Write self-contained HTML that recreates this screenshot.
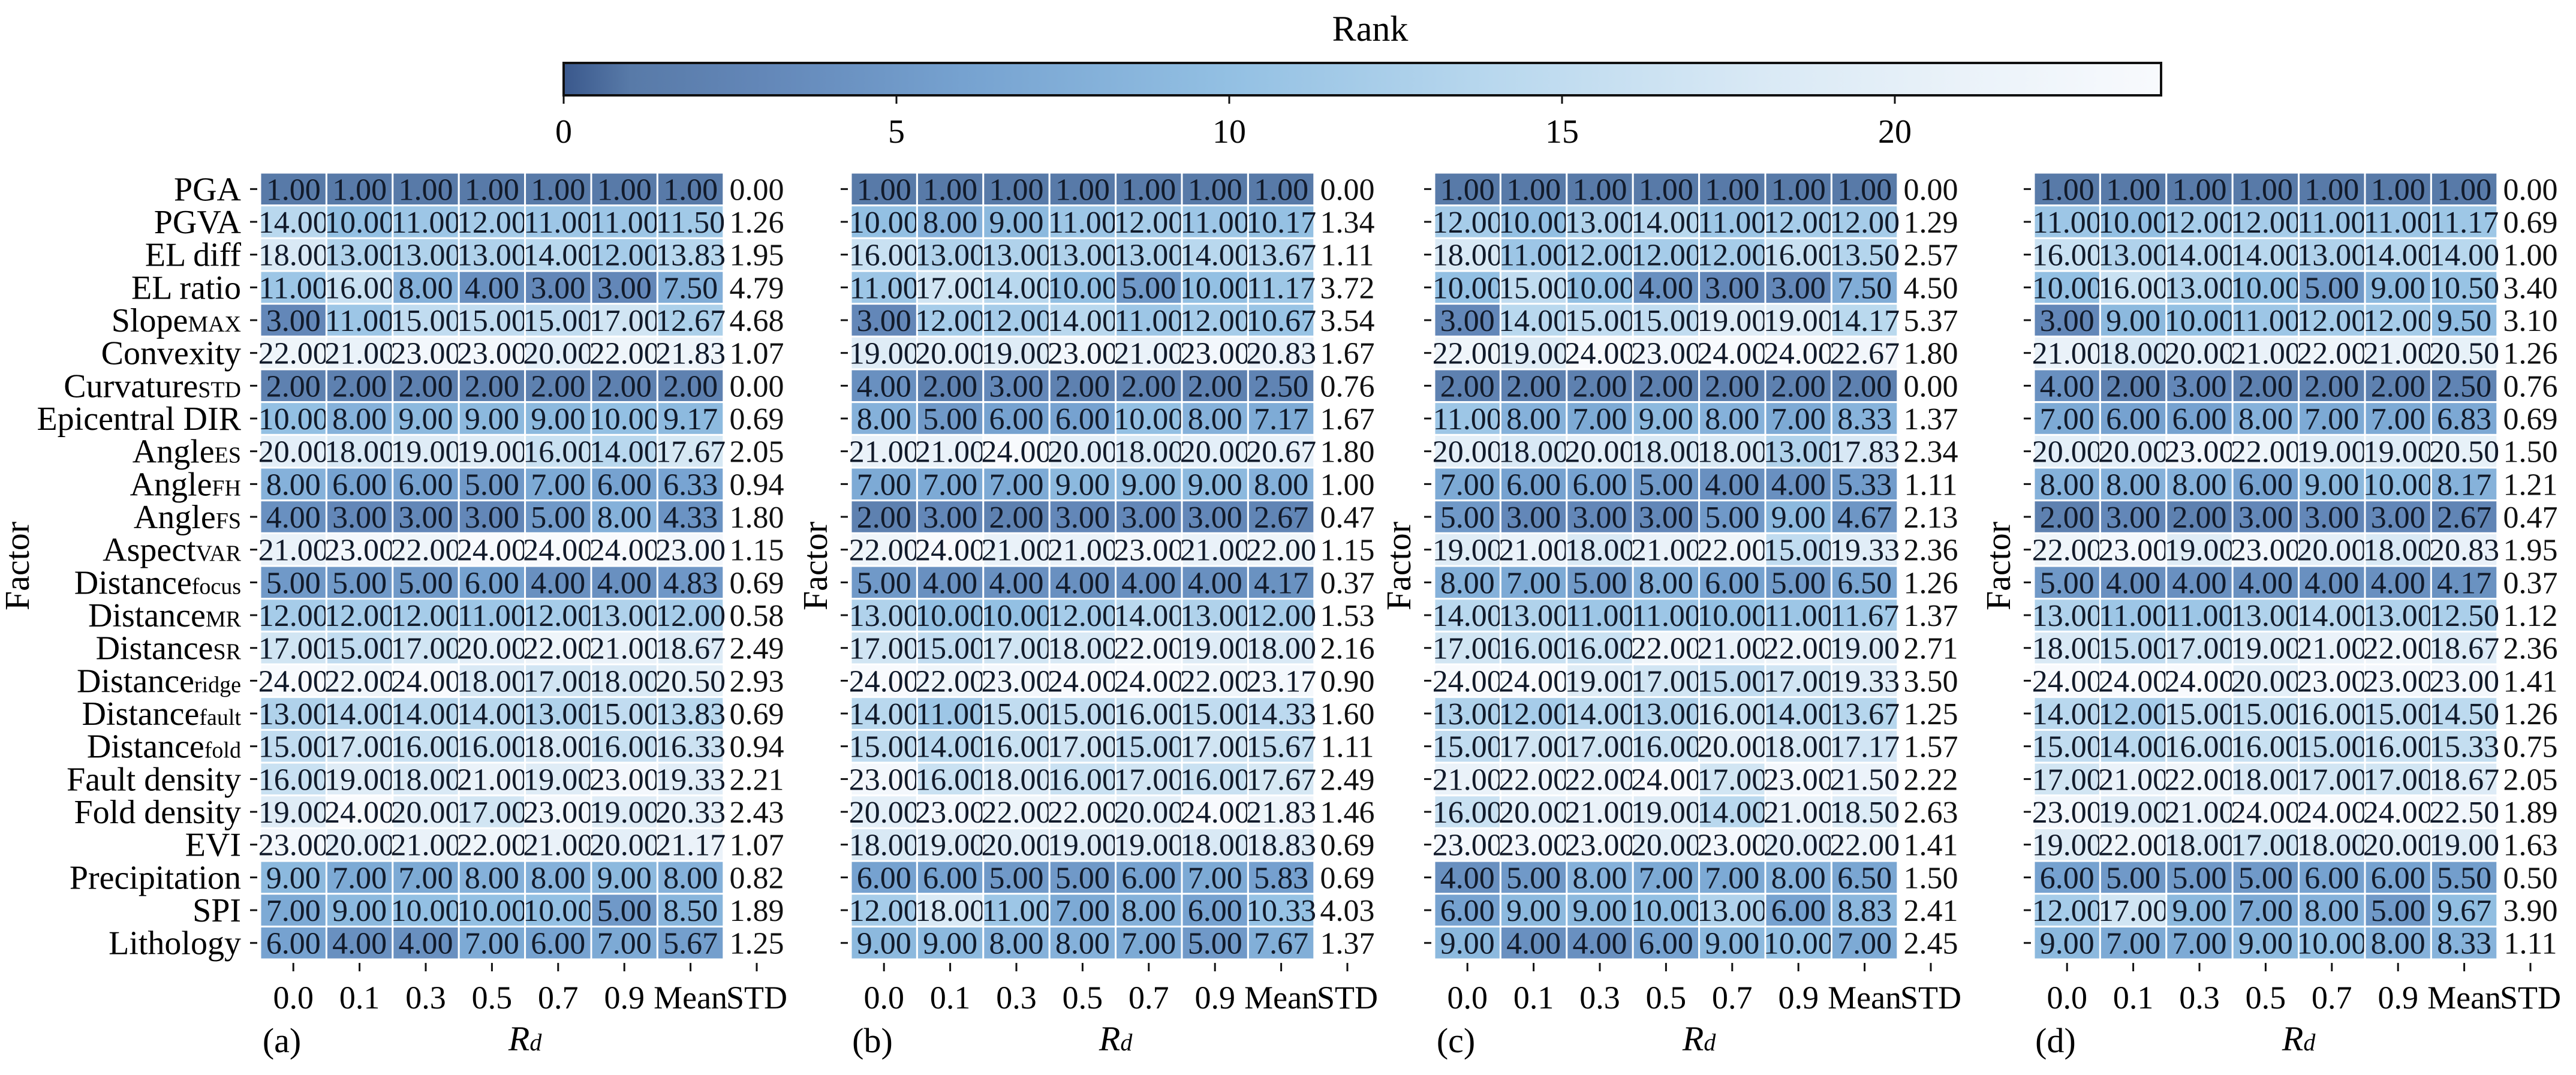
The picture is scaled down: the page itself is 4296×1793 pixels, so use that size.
<!DOCTYPE html>
<html><head><meta charset="utf-8"><style>
html,body{margin:0;padding:0;background:#fff;}
svg{display:block;font-family:"Liberation Serif",serif;}
</style></head><body>
<svg id="fig" xmlns="http://www.w3.org/2000/svg" width="4296" height="1793" viewBox="0 0 4296 1793">
<defs><linearGradient id="cbgrad" x1="0" x2="1" y1="0" y2="0"></linearGradient></defs>
<rect width="4296" height="1793" fill="#fff"/>
</svg>
<script>
// ---- data ----
const factors = ["PGA","PGVA","EL diff","EL ratio","Slope|MAX","Convexity","Curvature|STD","Epicentral DIR","Angle|ES","Angle|FH","Angle|FS","Aspect|VAR","Distance|focus","Distance|MR","Distance|SR","Distance|ridge","Distance|fault","Distance|fold","Fault density","Fold density","EVI","Precipitation","SPI","Lithology"];
const columns = ["0.0","0.1","0.3","0.5","0.7","0.9","Mean"];
const panelLabels = ["(a)","(b)","(c)","(d)"];
const colorbarTicks = [0,5,10,15,20];
const rankA = [[1,1,1,1,1,1,1],[14,10,11,12,11,11,11.5],[18,13,13,13,14,12,13.83],[11,16,8,4,3,3,7.5],[3,11,15,15,15,17,12.67],[22,21,23,23,20,22,21.83],[2,2,2,2,2,2,2],[10,8,9,9,9,10,9.17],[20,18,19,19,16,14,17.67],[8,6,6,5,7,6,6.33],[4,3,3,3,5,8,4.33],[21,23,22,24,24,24,23],[5,5,5,6,4,4,4.83],[12,12,12,11,12,13,12],[17,15,17,20,22,21,18.67],[24,22,24,18,17,18,20.5],[13,14,14,14,13,15,13.83],[15,17,16,16,18,16,16.33],[16,19,18,21,19,23,19.33],[19,24,20,17,23,19,20.33],[23,20,21,22,21,20,21.17],[9,7,7,8,8,9,8],[7,9,10,10,10,5,8.5],[6,4,4,7,6,7,5.67]];
const stdA = [0,1.26,1.95,4.79,4.68,1.07,0,0.69,2.05,0.94,1.80,1.15,0.69,0.58,2.49,2.93,0.69,0.94,2.21,2.43,1.07,0.82,1.89,1.25];
const rankB = [[1,1,1,1,1,1,1],[10,8,9,11,12,11,10.17],[16,13,13,13,13,14,13.67],[11,17,14,10,5,10,11.17],[3,12,12,14,11,12,10.67],[19,20,19,23,21,23,20.83],[4,2,3,2,2,2,2.5],[8,5,6,6,10,8,7.17],[21,21,24,20,18,20,20.67],[7,7,7,9,9,9,8],[2,3,2,3,3,3,2.67],[22,24,21,21,23,21,22],[5,4,4,4,4,4,4.17],[13,10,10,12,14,13,12],[17,15,17,18,22,19,18],[24,22,23,24,24,22,23.17],[14,11,15,15,16,15,14.33],[15,14,16,17,15,17,15.67],[23,16,18,16,17,16,17.67],[20,23,22,22,20,24,21.83],[18,19,20,19,19,18,18.83],[6,6,5,5,6,7,5.83],[12,18,11,7,8,6,10.33],[9,9,8,8,7,5,7.67]];
const stdB = [0,1.34,1.11,3.72,3.54,1.67,0.76,1.67,1.80,1.00,0.47,1.15,0.37,1.53,2.16,0.90,1.60,1.11,2.49,1.46,0.69,0.69,4.03,1.37];
const rankC = [[1,1,1,1,1,1,1],[12,10,13,14,11,12,12],[18,11,12,12,12,16,13.5],[10,15,10,4,3,3,7.5],[3,14,15,15,19,19,14.17],[22,19,24,23,24,24,22.67],[2,2,2,2,2,2,2],[11,8,7,9,8,7,8.33],[20,18,20,18,18,13,17.83],[7,6,6,5,4,4,5.33],[5,3,3,3,5,9,4.67],[19,21,18,21,22,15,19.33],[8,7,5,8,6,5,6.5],[14,13,11,11,10,11,11.67],[17,16,16,22,21,22,19],[24,24,19,17,15,17,19.33],[13,12,14,13,16,14,13.67],[15,17,17,16,20,18,17.17],[21,22,22,24,17,23,21.5],[16,20,21,19,14,21,18.5],[23,23,23,20,23,20,22],[4,5,8,7,7,8,6.5],[6,9,9,10,13,6,8.83],[9,4,4,6,9,10,7]];
const stdC = [0,1.29,2.57,4.50,5.37,1.80,0,1.37,2.34,1.11,2.13,2.36,1.26,1.37,2.71,3.50,1.25,1.57,2.22,2.63,1.41,1.50,2.41,2.45];
const rankD = [[1,1,1,1,1,1,1],[11,10,12,12,11,11,11.17],[16,13,14,14,13,14,14],[10,16,13,10,5,9,10.5],[3,9,10,11,12,12,9.5],[21,18,20,21,22,21,20.5],[4,2,3,2,2,2,2.5],[7,6,6,8,7,7,6.83],[20,20,23,22,19,19,20.5],[8,8,8,6,9,10,8.17],[2,3,2,3,3,3,2.67],[22,23,19,23,20,18,20.83],[5,4,4,4,4,4,4.17],[13,11,11,13,14,13,12.5],[18,15,17,19,21,22,18.67],[24,24,24,20,23,23,23],[14,12,15,15,16,15,14.5],[15,14,16,16,15,16,15.33],[17,21,22,18,17,17,18.67],[23,19,21,24,24,24,22.5],[19,22,18,17,18,20,19],[6,5,5,5,6,6,5.5],[12,17,9,7,8,5,9.67],[9,7,7,9,10,8,8.33]];
const stdD = [0,0.69,1.00,3.40,3.10,1.26,0.76,0.69,1.50,1.21,0.47,1.95,0.37,1.12,2.36,1.41,1.26,0.75,2.05,1.89,1.63,0.50,3.90,1.11];

// ---- layout / scales ----
const NS = "http://www.w3.org/2000/svg";
const svg = document.getElementById('fig');
const panelLeft = [434, 1419, 2392, 3392];
const cellW = 110.4, top0 = 288, rowH = 54.67;
const vmin = 0, vmax = 24;
const cmapStops = [[0,[58,88,140]],[1,[88,122,168]],[3,[99,135,184]],[6,[118,162,208]],[10,[147,192,227]],[14,[185,216,238]],[18,[217,233,245]],[21,[234,242,249]],[24,[248,250,253]]];
function cmap(v){
  v = Math.max(vmin, Math.min(vmax, v));
  for (let i=0;i<cmapStops.length-1;i++){
    const [a,ca]=cmapStops[i],[b,cb]=cmapStops[i+1];
    if (v<=b){const t=(v-a)/(b-a);const c=ca.map((x,k)=>Math.round(x+(cb[k]-x)*t));return `rgb(${c[0]},${c[1]},${c[2]})`;}
  }
  return 'rgb(248,250,253)';
}
const xCol = (p,j) => panelLeft[p] + j*cellW;
const yRow = i => top0 + i*rowH;
function mk(tag, attrs, parent){const e=document.createElementNS(NS,tag);for(const k in attrs)e.setAttribute(k,attrs[k]);(parent||svg).appendChild(e);return e;}

// ---- colorbar ----
const cbX0 = 940, cbX1 = 3604, cbY = 105, cbH = 54;
const cbScale = v => cbX0 + (v - vmin)/(vmax - vmin)*(cbX1 - cbX0);
const grad = document.getElementById('cbgrad');
cmapStops.forEach(s=>{mk('stop',{offset:(s[0]/vmax*100)+'%','stop-color':cmap(s[0])},grad);});
const cbg = mk('g',{});


const cbr = mk('rect',{x:cbX0,y:cbY,width:cbX1-cbX0,height:cbH,fill:'url(#cbgrad)',stroke:'#111','stroke-width':4},cbg);


const rk = mk('text',{x:2285,y:68,'font-size':60,'text-anchor':'middle'},cbg);
rk.textContent='Rank';


colorbarTicks.forEach(t=>{
  const x=cbScale(t);
  mk('line',{x1:x,x2:x,y1:cbY+cbH,y2:cbY+cbH+14,stroke:'#111','stroke-width':3},cbg);
  const tt=mk('text',{x:x,y:238,'font-size':56,'text-anchor':'middle'},cbg);
  tt.textContent=String(t);
  
  
});

// ---- panels ----
const panelsRank=[rankA,rankB,rankC,rankD];
const panelsStd=[stdA,stdB,stdC,stdD];
panelsRank.forEach((rank,p)=>{
  const g=mk('g',{});
  
  
  rank.forEach((row,i)=>{
    row.forEach((v,j)=>{
      const r=mk('rect',{x:xCol(p,j),y:yRow(i),width:cellW,height:rowH,fill:cmap(v),stroke:'#fff','stroke-width':3},g);
      
      
      const t=mk('text',{x:xCol(p,j)+cellW/2,y:yRow(i)+rowH/2+18,'font-size':52,'text-anchor':'middle',fill:'#111a2a'},g);
      t.textContent=v.toFixed(2);
      
      
    });
    const s=mk('text',{x:xCol(p,7)+cellW/2,y:yRow(i)+rowH/2+18,'font-size':52,'text-anchor':'middle',fill:'#111'},g);
    s.textContent=panelsStd[p][i].toFixed(2);
    
    
    mk('line',{x1:panelLeft[p]-17,x2:panelLeft[p]-5,y1:yRow(i)+rowH/2,y2:yRow(i)+rowH/2,stroke:'#111','stroke-width':3},g);
  });
  const bottom=yRow(rank.length);
  [...columns,"STD"].forEach((c,j)=>{
    const x=xCol(p,j)+cellW/2;
    mk('line',{x1:x,x2:x,y1:bottom+6,y2:bottom+20,stroke:'#111','stroke-width':3},g);
    const t=mk('text',{x:x,y:bottom+82,'font-size':54,'text-anchor':'middle'},g);
    t.textContent=c;
    
    
  });
  const pl=mk('text',{x:panelLeft[p]+36,y:1755,'font-size':58,'text-anchor':'middle'},g);
  pl.textContent=panelLabels[p];
  
  
  const xl=mk('text',{x:panelLeft[p]+4*cellW,y:1752,'font-size':58,'text-anchor':'middle','font-style':'italic'},g);
  xl.innerHTML='R<tspan font-size="40">d</tspan>';
  
  
  const yx = p===0 ? 48 : panelLeft[p]-40;
  const yl=mk('text',{x:yx,y:944,'font-size':58,'text-anchor':'middle',transform:`rotate(-90 ${yx} 944)`},g);
  yl.textContent='Factor';
  
  
});

// ---- row labels (panel a) ----
factors.forEach((f,i)=>{
  const parts=f.split('|');
  const t=mk('text',{x:402,y:yRow(i)+rowH/2+19,'font-size':56,'text-anchor':'end'});
  t.textContent=parts[0];
  if(parts[1]){const s=mk('tspan',{'font-size':38},t);s.textContent=parts[1];}
  
  
});
</script>
</body></html>
